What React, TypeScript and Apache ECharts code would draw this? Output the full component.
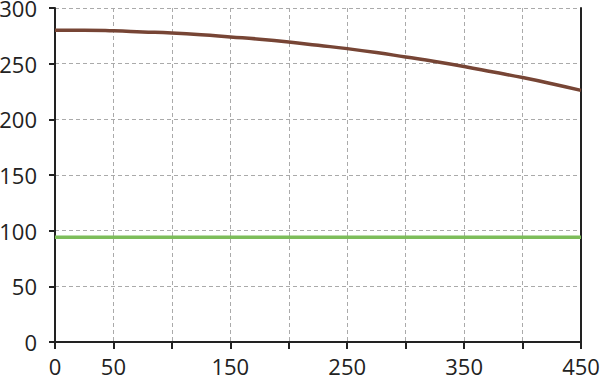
import React, { useEffect, useRef } from "react";
import * as echarts from "echarts";

const xValues = [0, 25, 50, 75, 100, 125, 150, 175, 200, 225, 250, 275, 300, 325, 350, 375, 400, 425, 450];
const brownValues = [280, 280, 279.5, 278.5, 277.5, 276, 274, 272, 269.5, 266.5, 263.5, 260, 256, 252, 247.5, 242.5, 237.5, 232, 226];
const greenX = [0, 450];
const greenValues = [94, 94];
const xLabelsShown = [0, 50, 150, 250, 350, 450];

const FONT = "'Open Sans', 'DejaVu Sans', sans-serif";
const AXIS = "#222222";

export default function App() {
  const ref = useRef<HTMLDivElement>(null);
  useEffect(() => {
    document.body.style.margin = "0";
    const chart = echarts.init(ref.current!, null, { renderer: "svg" });
    chart.setOption({
      animation: false,
      grid: { left: 55, right: 19, top: 8, bottom: 38, containLabel: false, outerBoundsMode: "none" },
      xAxis: {
        type: "value",
        min: 0,
        max: 450,
        interval: 50,
        axisLine: { show: true, onZero: false, lineStyle: { color: AXIS, width: 2 } },
        axisTick: { show: true, length: 7, lineStyle: { color: AXIS, width: 2 } },
        axisLabel: {
          color: AXIS,
          fontSize: 22,
          fontFamily: FONT,
          margin: 13,
          formatter: (v: number) => (xLabelsShown.includes(v) ? String(v) : ""),
        },
        splitLine: { show: true, lineStyle: { color: "#aaaaaa", type: [4, 3], width: 1 } },
      },
      yAxis: [
        {
          type: "value",
          min: 0,
          max: 300,
          interval: 50,
          axisLine: { show: true, lineStyle: { color: AXIS, width: 2 } },
          axisTick: { show: true, length: 6, lineStyle: { color: AXIS, width: 2 } },
          axisLabel: { color: AXIS, fontSize: 22, fontFamily: FONT, margin: 18 },
          splitLine: { show: true, lineStyle: { color: "#aaaaaa", type: [4, 3], width: 1 } },
        },
        {
          type: "value",
          position: "right",
          min: 0,
          max: 300,
          interval: 50,
          axisLine: { show: true, lineStyle: { color: AXIS, width: 2 } },
          axisTick: { show: false },
          axisLabel: { show: false },
          splitLine: { show: false },
        },
      ],
      series: [
        {
          type: "line",
          data: greenX.map((x, i) => [x, greenValues[i]]),
          showSymbol: false,
          lineStyle: { color: "#7dbd5a", width: 3.5 },
          z: 3,
        },
        {
          type: "line",
          smooth: true,
          data: xValues.map((x, i) => [x, brownValues[i]]),
          showSymbol: false,
          lineStyle: { color: "#774535", width: 3.5 },
          z: 4,
        },
      ],
    });
    return () => chart.dispose();
  }, []);
  return <div ref={ref} style={{ width: 600, height: 380 }} />;
}
